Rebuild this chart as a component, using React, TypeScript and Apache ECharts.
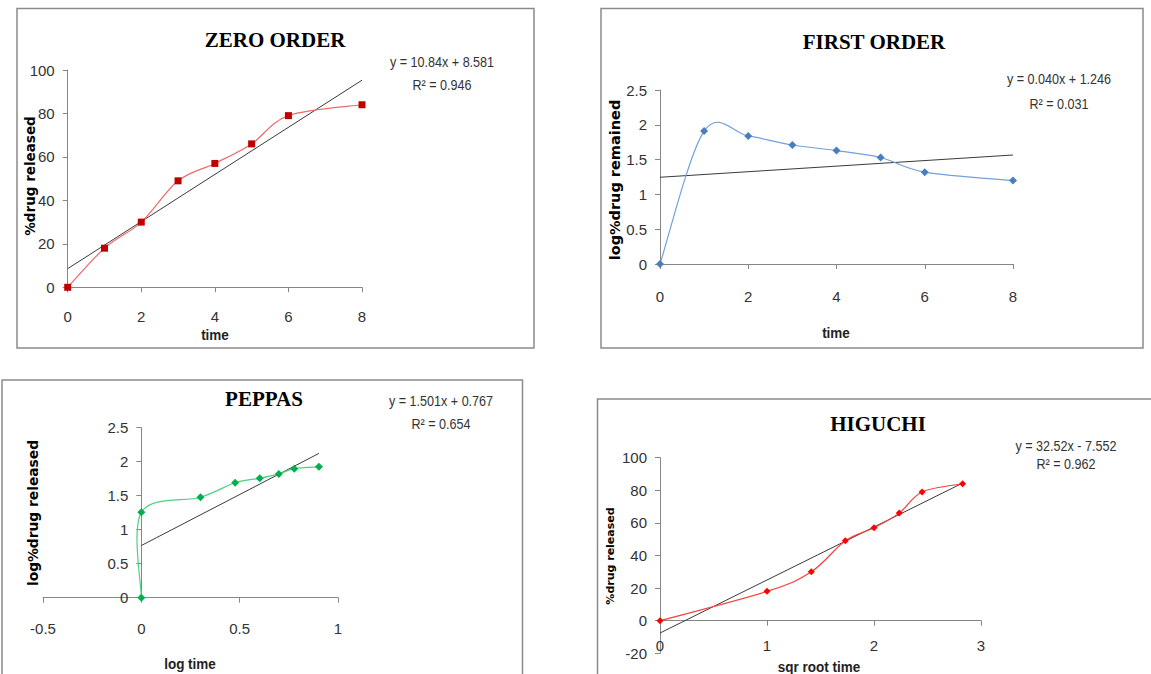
import React, { useEffect, useRef } from "react";
import * as echarts from "echarts";

// ---- data ----
const times = [0, 1, 2, 3, 4, 5, 6, 8];
const zeroOrder = [0, 18, 30, 49, 57, 66, 79, 84];
const firstOrder = [0, 1.91, 1.84, 1.71, 1.63, 1.53, 1.32, 1.2];
const logTime = [0, 0, 0.301, 0.477, 0.602, 0.699, 0.778, 0.903];
const peppas = [0, 1.255, 1.477, 1.69, 1.756, 1.82, 1.898, 1.924];
const sqrtTime = [0, 1, 1.414, 1.732, 2, 2.236, 2.449, 2.828];
const higuchi = [0, 18, 30, 49, 57, 66, 79, 84];

const zeroTrendX = [0, 8];
const zeroTrendY = [8.581, 95.3];
const firstTrendX = [0, 8];
const firstTrendY = [1.246, 1.566];
const peppasTrendX = [0, 0.903];
const peppasTrendY = [0.767, 2.122];
const higuchiTrendX = [0, 2.828];
const higuchiTrendY = [-7.552, 84.42];

const titles = ["ZERO ORDER", "FIRST ORDER", "PEPPAS", "HIGUCHI"];
const equations = ["y = 10.84x + 8.581", "y = 0.040x + 1.246", "y = 1.501x + 0.767", "y = 32.52x - 7.552"];
const r2s = ["R\u00b2 = 0.946", "R\u00b2 = 0.031", "R\u00b2 = 0.654", "R\u00b2 = 0.962"];
const xNames = ["time", "time", "log time", "sqr root time"];
const yNames = ["%drug released", "log%drug remained", "log%drug released", "%drug released"];

const pairs = (xs: number[], ys: number[]) => xs.map((x, i) => [x, ys[i]]);

const SANS = "'Liberation Sans', Arial, sans-serif";
const SERIF = "'Liberation Serif', 'Times New Roman', serif";
const AXIS_COLOR = "#868686";
const LABEL_COLOR = "#333";

function xAxisCfg(gi: number, min: number, max: number, interval: number, margin: number, offset = 0) {
  return {
    type: "value",
    gridIndex: gi,
    min,
    max,
    interval,
    offset,
    axisLine: { show: true, onZero: false, lineStyle: { color: AXIS_COLOR, width: 1 } },
    axisTick: { show: true, length: 5, lineStyle: { color: AXIS_COLOR } },
    axisLabel: { margin, fontSize: 15, color: LABEL_COLOR, fontFamily: SANS },
    splitLine: { show: false },
  };
}
function yAxisCfg(gi: number, min: number, max: number, interval: number, offset = 0) {
  return {
    type: "value",
    gridIndex: gi,
    min,
    max,
    interval,
    offset,
    axisLine: { show: true, onZero: false, lineStyle: { color: AXIS_COLOR, width: 1 } },
    axisTick: { show: true, length: 5, lineStyle: { color: AXIS_COLOR } },
    axisLabel: { margin: 13, fontSize: 15, color: LABEL_COLOR, fontFamily: SANS },
    splitLine: { show: false },
  };
}

// Excel-style smoothed line (Catmull-Rom converted to Bezier), drawn through the axes
function curveSeries(gi: number, data: number[][], lineColor: string) {
  return {
    type: "custom",
    coordinateSystem: "cartesian2d",
    xAxisIndex: gi,
    yAxisIndex: gi,
    data,
    encode: { x: 0, y: 1 },
    z: 3,
    clip: false,
    renderItem: (params: any, api: any) => {
      if (params.dataIndex !== 0) return null;
      const p = data.map((d) => api.coord(d));
      const n = p.length;
      let d = `M${p[0][0]},${p[0][1]}`;
      for (let i = 0; i < n - 1; i++) {
        const p0 = p[Math.max(i - 1, 0)];
        const p1 = p[i];
        const p2 = p[i + 1];
        const p3 = p[Math.min(i + 2, n - 1)];
        const c1x = p1[0] + (p2[0] - p0[0]) / 6;
        const c1y = p1[1] + (p2[1] - p0[1]) / 6;
        const c2x = p2[0] - (p3[0] - p1[0]) / 6;
        const c2y = p2[1] - (p3[1] - p1[1]) / 6;
        d += ` C${c1x},${c1y} ${c2x},${c2y} ${p2[0]},${p2[1]}`;
      }
      return {
        type: "path",
        shape: { pathData: d },
        style: { fill: "none", stroke: lineColor, lineWidth: 1.2 },
      };
    },
  };
}
function markerSeries(gi: number, data: number[][], color: string, symbol: string, size: number) {
  return {
    type: "scatter",
    xAxisIndex: gi,
    yAxisIndex: gi,
    data,
    symbol,
    symbolSize: size,
    z: 4,
    itemStyle: { color, opacity: 1 },
  };
}
function trendSeries(gi: number, data: number[][]) {
  return {
    type: "line",
    xAxisIndex: gi,
    yAxisIndex: gi,
    data,
    symbol: "none",
    z: 2,
    lineStyle: { color: "#3a3a3a", width: 1 },
  };
}

const boxes = [
  { x: 17, y: 8.5, w: 517, h: 339.5 },
  { x: 601, y: 8.5, w: 542, h: 339.5 },
  { x: 2, y: 380, w: 520.5, h: 320 },
  { x: 597.5, y: 399, w: 600, h: 300 },
];
const titlePos = [
  [275, 40],
  [874, 42],
  [264, 399],
  [878, 424],
];
const eqPos = [
  [442, 62, 85],
  [1059, 79, 104],
  [441, 401, 424],
  [1066, 446, 464],
];
const xNamePos = [
  [215, 335],
  [836, 333],
  [190, 664],
  [819, 667],
];
// x, y, font size
const yNamePos = [
  [30, 176, 13.5],
  [615, 180, 14.5],
  [33, 513, 13.8],
  [610, 556, 11],
];

export default function App() {
  const ref = useRef<HTMLDivElement>(null);
  useEffect(() => {
    if (!ref.current) return;
    const chart = echarts.init(ref.current, undefined, { renderer: "svg" });

    const graphics: any[] = [];
    boxes.forEach((b) => {
      graphics.push({
        type: "rect",
        shape: { x: b.x, y: b.y, width: b.w, height: b.h },
        style: { fill: "none", stroke: "#8a8a8a", lineWidth: 1.5 },
        silent: true,
      });
    });
    titles.forEach((t, i) => {
      graphics.push({
        type: "text",
        x: titlePos[i][0],
        y: titlePos[i][1],
        style: {
          text: t,
          align: "center",
          verticalAlign: "middle",
          fontSize: 21,
          fontWeight: "bold",
          fontFamily: SERIF,
          fill: "#000",
        },
      });
    });
    equations.forEach((e, i) => {
      graphics.push({
        type: "text",
        x: eqPos[i][0],
        y: eqPos[i][1],
        scaleX: 0.9,
        style: { text: e, align: "center", verticalAlign: "middle", fontSize: 14, fontFamily: SANS, fill: "#333" },
      });
      graphics.push({
        type: "text",
        x: eqPos[i][0],
        y: eqPos[i][2],
        scaleX: 0.9,
        style: { text: r2s[i], align: "center", verticalAlign: "middle", fontSize: 14, fontFamily: SANS, fill: "#333" },
      });
    });
    xNames.forEach((n, i) => {
      graphics.push({
        type: "text",
        x: xNamePos[i][0],
        y: xNamePos[i][1],
        scaleX: 0.9,
        style: {
          text: n,
          align: "center",
          verticalAlign: "middle",
          fontSize: 15,
          fontWeight: "bold",
          fontFamily: SANS,
          fill: "#222",
        },
      });
    });
    yNames.forEach((n, i) => {
      graphics.push({
        type: "text",
        x: yNamePos[i][0],
        y: yNamePos[i][1],
        rotation: Math.PI / 2,
        style: {
          text: n,
          x: 0,
          y: 0,
          align: "center",
          verticalAlign: "middle",
          fontSize: yNamePos[i][2],
          fontWeight: "bold",
          fontFamily: "'DejaVu Sans', Verdana, sans-serif",
          fill: "#000",
        },
      });
    });

    const option: any = {
      animation: false,
      backgroundColor: "#fff",
      grid: [
        { left: 67.7, top: 70, width: 362 - 67.7, height: 287.3 - 70 },
        { left: 660, top: 90, width: 1013 - 660, height: 264 - 90 },
        { left: 43, top: 427.7, width: 338 - 43, height: 597.7 - 427.7 },
        { left: 660, top: 457.7, width: 981 - 660, height: 653.3 - 457.7 },
      ],
      xAxis: [
        xAxisCfg(0, 0, 8, 2, 22),
        xAxisCfg(1, 0, 8, 2, 25),
        xAxisCfg(2, -0.5, 1, 0.5, 23),
        xAxisCfg(3, 0, 3, 1, 17, -32.6),
      ],
      yAxis: [
        yAxisCfg(0, 0, 100, 20),
        yAxisCfg(1, 0, 2.5, 0.5),
        yAxisCfg(2, 0, 2.5, 0.5, -98.3),
        yAxisCfg(3, -20, 100, 20),
      ],
      series: [
        trendSeries(0, pairs(zeroTrendX, zeroTrendY)),
        curveSeries(0, pairs(times, zeroOrder), "#ee6a6a"),
        markerSeries(0, pairs(times, zeroOrder), "#c00000", "rect", 7),
        trendSeries(1, pairs(firstTrendX, firstTrendY)),
        curveSeries(1, pairs(times, firstOrder), "#74a0d8"),
        markerSeries(1, pairs(times, firstOrder), "#4a7ebb", "diamond", 8),
        trendSeries(2, pairs(peppasTrendX, peppasTrendY)),
        curveSeries(2, pairs(logTime, peppas), "#4fd17f"),
        markerSeries(2, pairs(logTime, peppas), "#00b050", "diamond", 8),
        trendSeries(3, pairs(higuchiTrendX, higuchiTrendY)),
        curveSeries(3, pairs(sqrtTime, higuchi), "#ff3b3b"),
        markerSeries(3, pairs(sqrtTime, higuchi), "#ff0000", "diamond", 7),
      ],
      graphic: graphics,
    };
    chart.setOption(option);
    return () => chart.dispose();
  }, []);
  return (
    <div
      ref={ref}
      style={{ position: "fixed", left: 0, top: 0, width: 1151, height: 674, background: "#fff" }}
    />
  );
}
